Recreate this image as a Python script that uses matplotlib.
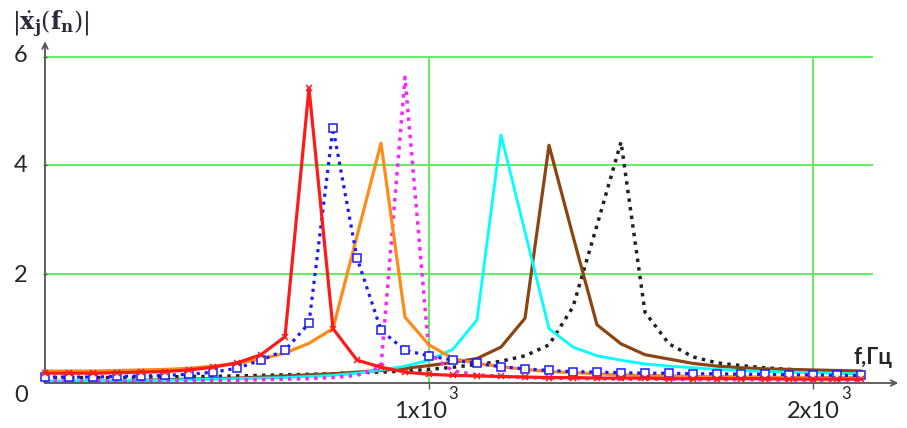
import matplotlib
matplotlib.use('Agg')
import matplotlib.pyplot as plt
import numpy as np

# frequency grid, Hz (step 62.5)
freq = np.arange(0, 2126, 62.5)

# |x_j(f_n)|, one list per curve
amp_red = [0.18, 0.18, 0.18, 0.19, 0.20, 0.21, 0.24, 0.29, 0.37, 0.52, 0.85, 5.42, 1.00, 0.42,
           0.29, 0.20, 0.16, 0.14, 0.13, 0.12, 0.11, 0.10, 0.10, 0.09, 0.09, 0.09, 0.08, 0.08,
           0.08, 0.08, 0.08, 0.07, 0.07, 0.07, 0.07]
amp_blue = [0.11, 0.11, 0.11, 0.12, 0.13, 0.14, 0.16, 0.20, 0.27, 0.42, 0.60, 1.10, 4.69, 2.30,
            0.97, 0.60, 0.50, 0.42, 0.36, 0.30, 0.26, 0.23, 0.21, 0.20, 0.19, 0.18, 0.18, 0.17,
            0.17, 0.16, 0.16, 0.15, 0.15, 0.14, 0.14]
amp_orange = [0.22, 0.22, 0.22, 0.23, 0.24, 0.25, 0.27, 0.31, 0.36, 0.44, 0.55, 0.73, 1.00, 2.70,
              4.41, 1.21, 0.70, 0.45, 0.36, 0.30, 0.25, 0.21, 0.19, 0.17, 0.15, 0.14, 0.13, 0.12,
              0.12, 0.11, 0.11, 0.10, 0.10, 0.10, 0.10]
amp_magenta = [0.03, 0.03, 0.03, 0.03, 0.04, 0.04, 0.04, 0.05, 0.05, 0.06, 0.07, 0.08, 0.10, 0.14,
               0.30, 5.62, 0.55, 0.22, 0.15, 0.12, 0.10, 0.09, 0.08, 0.08, 0.07, 0.07, 0.07, 0.06,
               0.06, 0.06, 0.06, 0.05, 0.05, 0.05, 0.05]
amp_cyan = [0.04, 0.04, 0.04, 0.05, 0.05, 0.05, 0.06, 0.07, 0.08, 0.09, 0.10, 0.12, 0.14, 0.18,
            0.24, 0.31, 0.42, 0.62, 1.16, 4.56, 2.78, 1.00, 0.66, 0.50, 0.42, 0.35, 0.31, 0.28,
            0.25, 0.23, 0.21, 0.20, 0.19, 0.18, 0.17]
amp_brown = [0.03, 0.03, 0.04, 0.04, 0.05, 0.06, 0.07, 0.08, 0.09, 0.11, 0.13, 0.15, 0.17, 0.20,
             0.23, 0.27, 0.32, 0.38, 0.45, 0.66, 1.19, 4.37, 2.70, 1.07, 0.72, 0.52, 0.44, 0.36,
             0.31, 0.28, 0.26, 0.25, 0.24, 0.23, 0.22]
amp_black = [0.10, 0.10, 0.10, 0.10, 0.11, 0.11, 0.12, 0.12, 0.13, 0.14, 0.15, 0.16, 0.17, 0.19,
             0.20, 0.22, 0.25, 0.29, 0.34, 0.40, 0.50, 0.70, 1.40, 2.90, 4.43, 1.30, 0.72, 0.48,
             0.37, 0.32, 0.28, 0.25, 0.22, 0.20, 0.18]

W, H = 907, 428
fig = plt.figure(figsize=(W / 100, H / 100), dpi=100)
# axes box in pixels: x 45..900, y 40..383 (from top)
ax = fig.add_axes([45 / W, (H - 383) / H, 855 / W, 343 / H])
ax.set_xlim(0, 855 / 0.384)
ax.set_ylim(0, 343 / 54.4)
for s in ax.spines.values():
    s.set_visible(False)

grid_c = '#66ec66'
ax.hlines([2, 4, 6], 0, 2155, colors=grid_c, lw=1.5, zorder=1)
ax.vlines([1000, 2000], 0, 6, colors=grid_c, lw=1.5, zorder=1)

# curves
ax.plot(freq, amp_black, color='#222222', lw=2.5, ls=(0, (1, 1.5)), clip_on=False, zorder=3)
ax.plot(freq, amp_brown, color='#8b4513', lw=2.3, clip_on=False, zorder=3)
ax.plot(freq, amp_cyan, color='#00ffff', lw=2.0, clip_on=False, zorder=3)
ax.plot(freq, amp_magenta, color='#ff22ff', lw=2.5, ls=(0, (1, 1.5)), clip_on=False, zorder=3)
ax.plot(freq, amp_orange, color='#ff8c1a', lw=2.3, clip_on=False, zorder=3)
ax.plot(freq, amp_blue, color='#1a1aff', lw=2.3, ls=(0, (1, 1.5)), marker='s', ms=6,
        mfc='white', mec='#1a1aff', mew=1.1, clip_on=False, zorder=4)
ax.plot(freq, amp_red, color='#ff1a1a', lw=2.3, marker='x', ms=5, mew=1.1,
        clip_on=False, zorder=5)

# axes with arrows
ax_c = '#555555'
ax.annotate('', xy=(2222, 0), xytext=(0, 0), annotation_clip=False,
            arrowprops=dict(arrowstyle='->', color=ax_c, lw=1.3, shrinkA=0, shrinkB=0))
ax.annotate('', xy=(0, 6.28), xytext=(0, 0), annotation_clip=False,
            arrowprops=dict(arrowstyle='->', color=ax_c, lw=1.3, shrinkA=0, shrinkB=0))

ax.set_xticks([1000, 2000])
ax.set_xticklabels([])
ax.set_yticks([2, 4, 6])
ax.set_yticklabels([])
ax.tick_params(axis='x', length=4, width=1, color=ax_c, direction='out')
ax.tick_params(axis='y', length=3, width=1, color=ax_c, direction='inout')

txt_c = '#262626'
fnt = 'Lato'
# y tick labels
for v, ypx in [(6, 55), (4, 165), (2, 275), (0, 395)]:
    fig.text(21 / W, 1 - ypx / H, str(v), fontsize=17, family=fnt, color=txt_c,
             ha='center', va='center')
# x tick labels with superscript
for xr, lab in [(447, '1x10'), (840, '2x10')]:
    fig.text(xr / W, 1 - 411 / H, lab, fontsize=17, family=fnt, color=txt_c,
             ha='right', va='center')
    fig.text((xr + 1) / W, 1 - 394 / H, '3', fontsize=12, family=fnt, color=txt_c,
             ha='left', va='center')

# axis labels
plt.rcParams['mathtext.fontset'] = 'dejavuserif'
fig.text(12 / W, 1 - 24 / H, r'$|\dot{\mathbf{x}}_{\mathbf{j}}(\mathbf{f}_{\mathbf{n}})|$',
         fontsize=17, color='#2a2a3a', ha='left', va='center')
fig.text(853 / W, 1 - 358 / H, 'f,Гц', fontsize=16, family=['Lato', 'DejaVu Sans'],
         fontweight='bold', color=txt_c, ha='left', va='center')

fig.savefig('out.png', dpi=100)
